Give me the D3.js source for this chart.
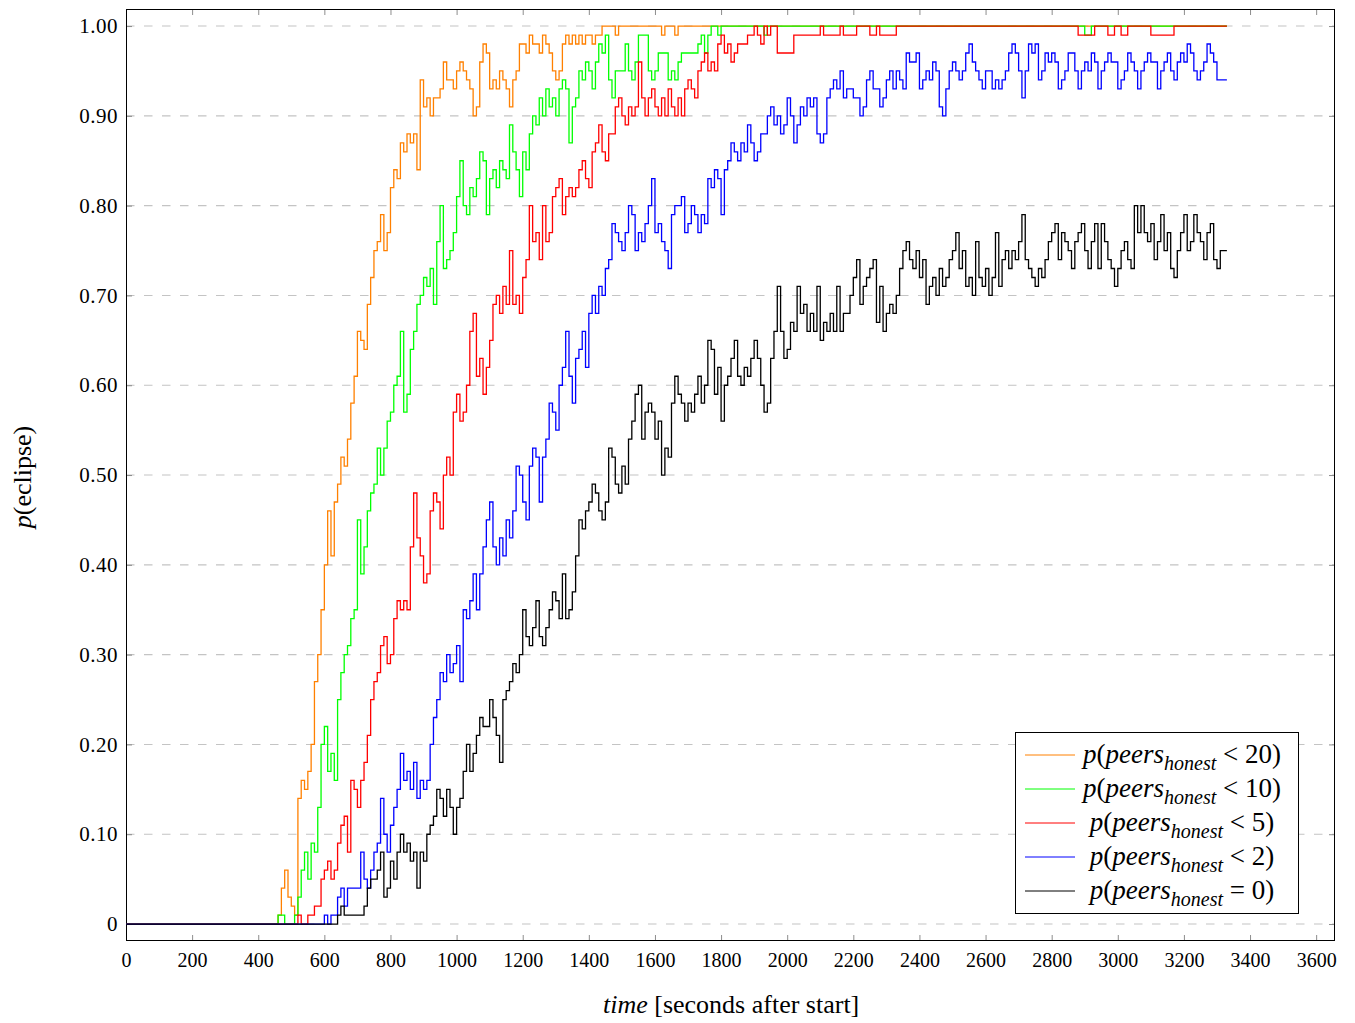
<!DOCTYPE html>
<html>
<head>
<meta charset="utf-8">
<script src="https://cdnjs.cloudflare.com/ajax/libs/d3/7.8.5/d3.min.js"></script>
<style>
  body { margin: 0; background: #fff; }
  svg { font-family: "Liberation Serif", "Times New Roman", serif; }
</style>
</head>
<body>
<div id="chart"></div>
<script>

// sample times (seconds after start), one value every 10 s
var times = d3.range(0, 3340, 10);

var xTicks = [0, 200, 400, 600, 800, 1000, 1200, 1400, 1600, 1800, 2000, 2200, 2400, 2600, 2800, 3000, 3200, 3400, 3600];
var yTicks = [0, 0.1, 0.2, 0.3, 0.4, 0.5, 0.6, 0.7, 0.8, 0.9, 1.0];
var yTickLabels = ["0", "0.10", "0.20", "0.30", "0.40", "0.50", "0.60", "0.70", "0.80", "0.90", "1.00"];

var seriesOps = ["<", "<", "<", "<", "="];
var seriesLimits = ["20", "10", "5", "2", "0"];
var seriesColors = ["#ff8000", "#00ff00", "#ff0000", "#0000ff", "#000000"];

// one row = 200 s
// p(peers_honest < 20)
var pLess20 = [
  0,0,0,0,0,0,0,0,0,0,0,0,0,0,0,0,0,0,0,0,
  0,0,0,0,0,0,0,0,0,0,0,0,0,0,0,0,0,0,0,0,
  0,0,0,0,0,0,.01,.04,.06,.03,.02,.01,.14,.16,.15,.17,.20,.27,.30,.35,
  .40,.46,.41,.47,.49,.52,.51,.54,.58,.61,.66,.65,.64,.69,.72,.75,.76,.79,.75,.77,
  .82,.84,.83,.87,.86,.88,.87,.88,.84,.94,.91,.92,.90,.92,.92,.93,.96,.94,.94,.93,
  .95,.96,.95,.94,.93,.90,.91,.96,.98,.97,.93,.94,.93,.95,.94,.93,.91,.94,.95,.98,
  .98,.97,.99,.98,.98,.97,.99,.98,.97,.95,.94,.95,.98,.99,.98,.99,.98,.99,.98,.99,
  .99,.98,.99,.99,1,1,1,1,.99,1,1,1,1,1,1,1,1,1,1,1,
  1,1,.99,1,1,1,.99,1,1,1,1,1,1,1,1,1,1,1,1,1,
  1,1,1,1,1,1,1,1,1,1,1,1,1,1,1,1,1,1,1,1,
  1,1,1,1,1,1,1,1,1,1,1,1,1,1,1,1,1,1,1,1,
  1,1,1,1,1,1,1,1,1,1,1,1,1,1,1,1,1,1,1,1,
  1,1,1,1,1,1,1,1,1,1,1,1,1,1,1,1,1,1,1,1,
  1,1,1,1,1,1,1,1,1,1,1,1,1,1,1,1,1,1,1,1,
  1,1,1,1,1,1,1,1,1,1,1,1,1,1,1,1,1,1,1,1,
  1,1,1,1,1,1,1,1,1,1,1,1,1,1,1,1,1,1,1,1,
  1,1,1,1,1,1,1,1,1,1,1,1,1,1
];

// p(peers_honest < 10)
var pLess10 = [
  0,0,0,0,0,0,0,0,0,0,0,0,0,0,0,0,0,0,0,0,
  0,0,0,0,0,0,0,0,0,0,0,0,0,0,0,0,0,0,0,0,
  0,0,0,0,0,0,.01,.01,0,0,0,.01,.03,.06,.08,.05,.09,.08,.13,.20,
  .22,.17,.19,.16,.25,.28,.30,.31,.34,.35,.45,.39,.42,.46,.48,.49,.53,.50,.53,.56,
  .57,.60,.61,.66,.57,.59,.64,.66,.69,.70,.72,.71,.73,.69,.76,.80,.73,.74,.75,.77,
  .81,.85,.80,.79,.82,.81,.83,.86,.85,.79,.83,.84,.82,.85,.84,.83,.89,.86,.84,.81,
  .86,.84,.88,.90,.89,.92,.90,.93,.91,.92,.90,.93,.94,.93,.87,.91,.92,.95,.94,.96,
  .95,.93,.96,.98,.97,.99,.94,.92,.95,.95,.95,.98,.95,.94,.96,.99,.99,.99,.95,.94,
  .95,.97,.97,.97,.94,.95,.94,.96,.97,.97,.97,.97,.97,.98,.99,.97,.99,1,1,.99,
  1,1,1,1,1,1,1,1,1,1,1,1,1,.99,1,1,1,1,1,1,
  1,1,1,1,1,1,1,1,1,1,1,1,1,1,1,1,1,1,1,1,
  1,1,1,1,1,1,1,1,1,1,1,1,1,1,1,1,1,1,1,1,
  1,1,1,1,1,1,1,1,1,1,1,1,1,1,1,1,1,1,1,1,
  1,1,1,1,1,1,1,1,1,1,1,1,1,1,1,1,1,1,1,1,
  1,1,1,1,1,1,1,1,1,1,.99,.99,1,1,1,1,1,1,1,1,
  1,1,1,1,1,1,1,1,1,1,1,1,1,1,1,1,1,1,1,1,
  1,1,1,1,1,1,1,1,1,1,1,1,1,1
];

// p(peers_honest < 5)
var pLess5 = [
  0,0,0,0,0,0,0,0,0,0,0,0,0,0,0,0,0,0,0,0,
  0,0,0,0,0,0,0,0,0,0,0,0,0,0,0,0,0,0,0,0,
  0,0,0,0,0,0,0,0,0,0,0,0,.01,0,0,.01,.01,.02,.02,.05,
  .06,.07,.05,.06,.09,.11,.12,.08,.16,.15,.13,.16,.18,.21,.25,.27,.28,.31,.32,.29,
  .30,.34,.36,.35,.36,.35,.42,.48,.43,.41,.38,.39,.46,.48,.47,.44,.50,.52,.50,.57,
  .59,.56,.57,.60,.66,.68,.61,.63,.59,.62,.65,.69,.70,.68,.71,.69,.75,.69,.70,.68,
  .72,.74,.80,.76,.77,.74,.80,.76,.77,.81,.82,.83,.79,.81,.82,.81,.82,.84,.85,.83,
  .82,.86,.87,.89,.86,.85,.88,.88,.91,.92,.90,.89,.91,.90,.91,.96,.92,.90,.92,.93,
  .91,.90,.92,.90,.93,.91,.90,.92,.90,.93,.94,.93,.92,.95,.96,.97,.95,.96,.95,.98,
  .99,.97,.98,.96,.97,.98,.98,.98,.99,.99,1,.99,.98,1,.99,1,1,.97,.97,.97,
  .97,.97,.99,.99,.99,.99,.99,.99,.99,.99,1,.99,.99,.99,.99,.99,1,.99,.99,.99,
  .99,1,1,1,1,.99,.99,1,.99,.99,.99,.99,.99,1,1,1,1,1,1,1,
  1,1,1,1,1,1,1,1,1,1,1,1,1,1,1,1,1,1,1,1,
  1,1,1,1,1,1,1,1,1,1,1,1,1,1,1,1,1,1,1,1,
  1,1,1,1,1,1,1,1,.99,.99,.99,.99,.99,1,1,1,1,.99,.99,1,
  1,.99,.99,1,1,1,1,1,1,1,.99,.99,.99,.99,.99,.99,.99,1,1,1,
  1,1,1,1,1,1,1,1,1,1,1,1,1,1
];

// p(peers_honest < 2)
var pLess2 = [
  0,0,0,0,0,0,0,0,0,0,0,0,0,0,0,0,0,0,0,0,
  0,0,0,0,0,0,0,0,0,0,0,0,0,0,0,0,0,0,0,0,
  0,0,0,0,0,0,0,0,0,0,0,0,0,0,0,0,0,0,0,0,
  .01,0,.01,.01,.03,.04,.02,.04,.04,.04,.04,.08,.05,.04,.06,.08,.09,.14,.10,.08,
  .11,.13,.15,.19,.16,.17,.15,.18,.14,.16,.15,.16,.20,.23,.25,.28,.27,.30,.28,.29,
  .31,.27,.35,.34,.36,.39,.35,.39,.42,.45,.47,.42,.40,.43,.41,.45,.43,.46,.51,.50,
  .47,.45,.51,.53,.52,.47,.52,.54,.58,.57,.55,.60,.62,.66,.61,.58,.63,.64,.66,.62,
  .68,.70,.68,.71,.70,.73,.74,.78,.77,.76,.75,.77,.80,.79,.75,.77,.76,.78,.80,.83,
  .77,.78,.76,.75,.73,.79,.80,.80,.81,.77,.78,.80,.79,.77,.79,.78,.83,.82,.84,.83,
  .79,.84,.85,.87,.86,.85,.87,.86,.89,.87,.85,.86,.88,.88,.90,.91,.89,.90,.88,.89,
  .92,.90,.87,.89,.91,.90,.92,.91,.92,.88,.87,.88,.92,.93,.94,.93,.95,.92,.93,.93,
  .92,.92,.90,.91,.94,.95,.93,.93,.91,.92,.94,.95,.93,.95,.94,.93,.97,.96,.96,.97,
  .93,.94,.95,.94,.96,.95,.91,.90,.93,.95,.96,.95,.94,.95,.97,.98,.96,.95,.94,.93,
  .95,.95,.93,.94,.93,.94,.95,.97,.98,.97,.95,.92,.95,.98,.97,.98,.94,.95,.97,.96,
  .97,.96,.93,.94,.95,.97,.97,.95,.93,.95,.96,.95,.97,.96,.93,.95,.96,.97,.96,.96,
  .93,.94,.95,.97,.96,.95,.93,.95,.96,.97,.96,.96,.93,.95,.96,.97,.95,.94,.96,.97,
  .96,.98,.97,.95,.94,.95,.96,.98,.97,.96,.94,.94,.94,.94
];

// p(peers_honest = 0)
var pZero = [
  0,0,0,0,0,0,0,0,0,0,0,0,0,0,0,0,0,0,0,0,
  0,0,0,0,0,0,0,0,0,0,0,0,0,0,0,0,0,0,0,0,
  0,0,0,0,0,0,0,0,0,0,0,0,0,0,0,0,0,0,0,0,
  0,0,0,0,.01,.02,.01,.01,.01,.01,.01,.01,.02,.04,.05,.05,.06,.08,.03,.04,
  .07,.05,.08,.10,.08,.09,.07,.08,.04,.08,.07,.10,.11,.12,.15,.14,.12,.15,.13,.10,
  .13,.14,.17,.20,.17,.19,.21,.23,.22,.22,.25,.23,.21,.18,.25,.26,.27,.29,.28,.30,
  .35,.32,.31,.33,.36,.32,.31,.33,.35,.37,.36,.34,.39,.34,.35,.37,.41,.45,.44,.46,
  .47,.49,.48,.46,.45,.47,.53,.52,.49,.48,.51,.49,.54,.56,.59,.60,.54,.57,.58,.57,
  .54,.56,.50,.53,.52,.58,.61,.59,.58,.56,.58,.57,.59,.61,.58,.60,.65,.64,.59,.62,
  .56,.60,.61,.63,.65,.61,.60,.62,.61,.63,.65,.63,.60,.57,.58,.63,.66,.71,.66,.63,
  .64,.67,.66,.71,.68,.69,.66,.68,.66,.71,.65,.67,.66,.68,.66,.71,.66,.68,.68,.70,
  .72,.74,.69,.71,.72,.73,.74,.67,.71,.66,.68,.69,.68,.70,.73,.75,.76,.74,.73,.75,
  .72,.74,.69,.71,.72,.70,.73,.71,.72,.74,.75,.77,.73,.75,.71,.72,.70,.76,.72,.71,
  .73,.70,.72,.77,.71,.74,.75,.73,.75,.74,.76,.79,.74,.73,.72,.71,.73,.72,.74,.76,
  .77,.78,.74,.77,.76,.75,.73,.76,.77,.78,.75,.73,.76,.78,.73,.78,.76,.74,.73,.71,
  .73,.75,.76,.74,.73,.80,.77,.80,.77,.76,.78,.74,.76,.79,.75,.77,.73,.72,.75,.77,
  .79,.75,.76,.79,.77,.76,.74,.77,.78,.74,.73,.75,.75,.75
];

var seriesValues = [pLess20, pLess10, pLess5, pLess2, pZero];


EclipseChart = function(_parentElement) {
  this.parentElement = _parentElement;
  this.initVis();
};

EclipseChart.prototype.initVis = function() {
  var vis = this;

  vis.margin = {top: 9, right: 20, bottom: 82, left: 126};
  vis.width = 1355 - vis.margin.left - vis.margin.right;
  vis.height = 1023 - vis.margin.top - vis.margin.bottom;

  vis.svg = d3.select(vis.parentElement).append("svg")
    .attr("width", 1355)
    .attr("height", 1023)
    .append("g")
    .attr("transform", "translate(" + vis.margin.left + "," + vis.margin.top + ")");

  vis.x = d3.scaleLinear().domain([0, 3657]).range([0, vis.width]);
  vis.y = d3.scaleLinear().domain([-0.0189, 1.019]).range([vis.height, 0]);

  vis.data = seriesValues.map(function(vals, i) {
    return {
      color: seriesColors[i],
      op: seriesOps[i],
      limit: seriesLimits[i],
      values: vals.map(function(v, j) { return {t: times[j], p: v}; })
    };
  });

  vis.drawAxes();
  vis.drawLines();
  vis.drawLegend();
};

EclipseChart.prototype.drawAxes = function() {
  var vis = this;

  // dashed horizontal grid
  vis.svg.append("g")
    .selectAll("line")
    .data(yTicks)
    .enter().append("line")
    .attr("x1", 0)
    .attr("x2", vis.width)
    .attr("y1", function(d) { return vis.y(d); })
    .attr("y2", function(d) { return vis.y(d); })
    .attr("stroke", "#c4c4c4")
    .attr("stroke-width", 1.1)
    .attr("stroke-dasharray", "8.5,9.5");

  // ticks point inwards, labels only bottom / left
  var xb = vis.svg.append("g")
    .attr("transform", "translate(0," + vis.height + ")")
    .call(d3.axisBottom(vis.x).tickValues(xTicks).tickSizeInner(-6).tickSizeOuter(0).tickPadding(12)
      .tickFormat(d3.format("d")));
  var xt = vis.svg.append("g")
    .call(d3.axisTop(vis.x).tickValues(xTicks).tickSizeInner(-6).tickSizeOuter(0).tickFormat(""));
  var yl = vis.svg.append("g")
    .call(d3.axisLeft(vis.y).tickValues(yTicks).tickSizeInner(-6).tickSizeOuter(0).tickPadding(8)
      .tickFormat(function(d, i) { return yTickLabels[i]; }));
  var yr = vis.svg.append("g")
    .attr("transform", "translate(" + vis.width + ",0)")
    .call(d3.axisRight(vis.y).tickValues(yTicks).tickSizeInner(-6).tickSizeOuter(0).tickFormat(""));

  [xb, xt, yl, yr].forEach(function(ax) {
    ax.select(".domain").remove();
    ax.selectAll(".tick line").attr("stroke", "#808080").attr("stroke-width", 0.9);
    ax.selectAll(".tick text")
      .attr("fill", "#000")
      .style("font-family", "'Liberation Serif', serif")
      .style("font-size", "20px");
  });
  yl.selectAll(".tick text")
    .style("font-size", "21px")
    .style("letter-spacing", "0.5px");

  // frame
  vis.svg.append("rect")
    .attr("x", 0.5)
    .attr("y", 0.5)
    .attr("width", vis.width - 1)
    .attr("height", vis.height - 1)
    .attr("fill", "none")
    .attr("stroke", "#000")
    .attr("stroke-width", 1);

  // axis titles
  var xTitle = vis.svg.append("text")
    .attr("x", 603 - vis.margin.left)
    .attr("y", 1013 - vis.margin.top)
    .style("font-size", "26px");
  xTitle.append("tspan").attr("font-style", "italic").text("time");
  xTitle.append("tspan").text(" [seconds after start]");

  var yTitle = vis.svg.append("text")
    .attr("transform", "translate(" + (31 - vis.margin.left) + "," + (477 - vis.margin.top) + ") rotate(-90)")
    .attr("text-anchor", "middle")
    .style("font-size", "26px");
  yTitle.append("tspan").attr("font-style", "italic").text("p");
  yTitle.append("tspan").text("(eclipse)");
};

EclipseChart.prototype.drawLines = function() {
  var vis = this;

  var line = d3.line()
    .curve(d3.curveStepAfter)
    .x(function(d) { return vis.x(d.t); })
    .y(function(d) { return vis.y(d.p); });

  vis.svg.selectAll(".series")
    .data(vis.data)
    .enter().append("path")
    .attr("class", "series")
    .attr("d", function(d) { return line(d.values); })
    .attr("fill", "none")
    .attr("stroke", function(d) { return d.color; })
    .attr("stroke-width", 1.3);
};

EclipseChart.prototype.drawLegend = function() {
  var vis = this;

  var lg = vis.svg.append("g")
    .attr("transform", "translate(" + (1015 - vis.margin.left) + "," + (732 - vis.margin.top) + ")");

  lg.append("rect")
    .attr("x", 0.5)
    .attr("y", 0.5)
    .attr("width", 283)
    .attr("height", 181)
    .attr("fill", "#fff")
    .attr("stroke", "#000")
    .attr("stroke-width", 1);

  var rows = lg.selectAll(".entry")
    .data(vis.data)
    .enter().append("g")
    .attr("class", "entry")
    .attr("transform", function(d, i) { return "translate(0," + (23 + i * 34) + ")"; });

  rows.append("line")
    .attr("x1", 10)
    .attr("x2", 60)
    .attr("stroke", function(d) { return d.color; })
    .attr("stroke-width", 1);

  var txt = rows.append("text")
    .attr("x", 167)
    .attr("y", 8)
    .attr("text-anchor", "middle")
    .style("font-size", "27px");
  txt.append("tspan").attr("font-style", "italic").text("p");
  txt.append("tspan").text("(");
  txt.append("tspan").attr("font-style", "italic").text("peers");
  txt.append("tspan").attr("font-style", "italic").attr("dy", 7).style("font-size", "20px").text("honest");
  txt.append("tspan").attr("dy", -7).text(function(d) { return " " + d.op + " " + d.limit + ")"; });
};

new EclipseChart("#chart");

</script>
</body>
</html>
